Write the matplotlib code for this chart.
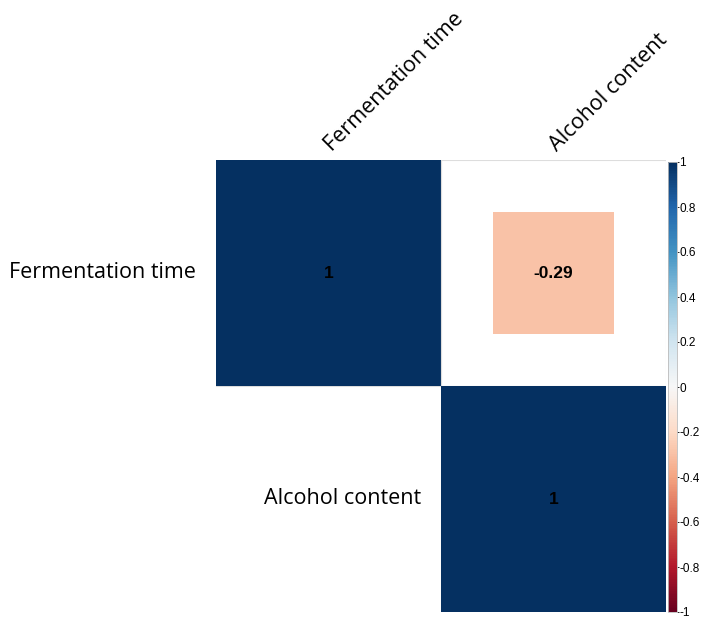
import numpy as np
from matplotlib import pyplot as plt
from matplotlib import patches as ptc
from matplotlib import colors as pcl
from matplotlib import cm

labels = ['Fermentation time', 'Alcohol content']
corr = np.array([[1.0, -0.29],
                 [-0.29, 1.0]])
cbar_ticks = [-1, -0.8, -0.6, -0.4, -0.2, 0, 0.2, 0.4, 0.6, 0.8, 1]
cbar_labels = ['-1', '-0.8', '-0.6', '-0.4', '-0.2', '0', '0.2', '0.4', '0.6', '0.8', '1']

cmap = plt.get_cmap('RdBu')
norm = pcl.Normalize(vmin=-1, vmax=1)
lab_font = ['Open Sans', 'DejaVu Sans']

fig = plt.figure(figsize=(7.02, 6.19), dpi=100)
ax = fig.add_axes([216 / 702, 1 - 612 / 619, 450 / 702, 452 / 619])
n = len(labels)
ax.set_xlim(0, n)
ax.set_ylim(n, 0)
ax.axis('off')

for i in range(n):
    for j in range(i, n):
        # light grid around upper-triangle cells
        ax.add_patch(ptc.Rectangle((j, i), 1, 1, fill=False,
                                   edgecolor='#dddddd', linewidth=0.8))
        r = corr[i, j]
        s = np.sqrt(abs(r))
        ax.add_patch(ptc.Rectangle((j + 0.5 - s / 2, i + 0.5 - s / 2), s, s,
                                   color=cmap(norm(r)), linewidth=0))
        txt = '%g' % r if r != 1 else '1'
        ax.text(j + 0.5, i + 0.5, txt, ha='center', va='center',
                fontsize=12.5, fontweight='bold', family='Liberation Sans',
                color='black')

# row labels next to the diagonal
for i in range(n):
    ax.text(i - 0.09, i + 0.5, labels[i], ha='right', va='center',
            fontsize=15.5, family=lab_font)
# column labels on top, rotated
for j in range(n):
    ax.text(j + 0.53, -0.02, labels[j], ha='left', va='bottom',
            rotation=45, rotation_mode='anchor', fontsize=15.5, family=lab_font)

cax = fig.add_axes([668 / 702, 1 - 612 / 619, 9 / 702, 450 / 619])
cb = fig.colorbar(cm.ScalarMappable(norm=norm, cmap=cmap), cax=cax)
cb.set_ticks(cbar_ticks)
cb.set_ticklabels(cbar_labels)
cb.outline.set_edgecolor('#bbbbbb')
cb.outline.set_linewidth(0.6)
cax.tick_params(length=1.5, width=0.6, pad=0.3, labelsize=8.5)
for t in cax.get_yticklabels():
    t.set_family('Liberation Sans')

plt.savefig('out.png', dpi=100)
